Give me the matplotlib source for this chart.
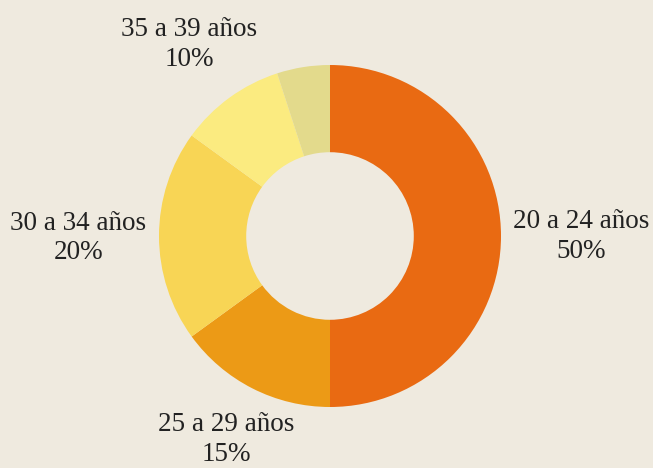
import matplotlib.pyplot as plt

grupos = ['20 a 24 años', '25 a 29 años', '30 a 34 años', '35 a 39 años', '']
porcentajes = [50, 15, 20, 10, 5]
colores = ['#E96A12', '#EC9A16', '#F8D555', '#FBEB80', '#E3DA8C']
fondo = '#EFEADF'

# donde va cada etiqueta (unidades del radio)
pos_etiquetas = [(1.468, -0.005), (-0.608, -1.19), (-1.471, -0.012), (-0.825, 1.12), None]

plt.rcParams['font.family'] = ['Liberation Serif', 'DejaVu Serif']

fig = plt.figure(figsize=(6.53, 4.68), dpi=100)
fig.patch.set_facecolor(fondo)
ax = fig.add_axes([0, 0, 1, 1])
ax.set_facecolor(fondo)

ax.pie(porcentajes, colors=colores, startangle=90, counterclock=False,
       radius=1, wedgeprops=dict(width=0.51, linewidth=0))

for g, p, pos in zip(grupos, porcentajes, pos_etiquetas):
    if pos is None:
        continue
    ax.text(pos[0], pos[1], f'{g}\n{p}%', ha='center', va='center',
            fontsize=19.5, color='#222222', linespacing=1.25)

# centro del anillo en (330, 236) px, radio 171 px
esc = 171
ax.set_xlim(-330 / esc, (653 - 330) / esc)
ax.set_ylim(-(468 - 236) / esc, 236 / esc)
ax.set_aspect('equal')
ax.axis('off')

fig.savefig('out.png', dpi=100, facecolor=fondo)
